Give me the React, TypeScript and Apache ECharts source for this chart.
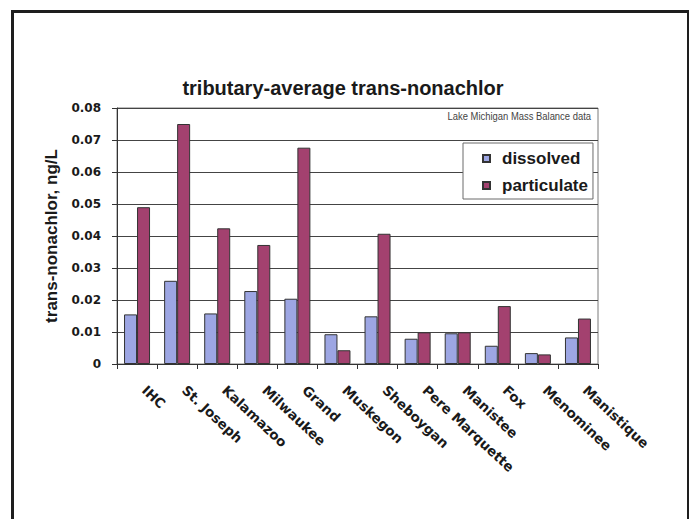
import React, { useEffect, useRef } from "react";
import * as echarts from "echarts";

const categories = [
  "IHC",
  "St. Joseph",
  "Kalamazoo",
  "Milwaukee",
  "Grand",
  "Muskegon",
  "Sheboygan",
  "Pere Marquette",
  "Manistee",
  "Fox",
  "Menominee",
  "Manistique",
];
const dissolved = [0.0155, 0.026, 0.0158, 0.0228, 0.0204, 0.0093, 0.0149, 0.0079, 0.0096, 0.0057, 0.0034, 0.0083];
const particulate = [0.049, 0.075, 0.0424, 0.0372, 0.0676, 0.0043, 0.0407, 0.0099, 0.0099, 0.0181, 0.003, 0.0142];
const yTicks = [0, 0.01, 0.02, 0.03, 0.04, 0.05, 0.06, 0.07, 0.08];

const titleText = "tributary-average trans-nonachlor";
const yAxisName = "trans-nonachlor, ng/L";
const sourceNote = "Lake Michigan Mass Balance data";

export default function App() {
  const ref = useRef<HTMLDivElement>(null);
  useEffect(() => {
    if (!ref.current) return;
    const chart = echarts.init(ref.current, undefined, { renderer: "svg" });
    const font = "Arial, 'Liberation Sans', sans-serif";
    const wide = "'DejaVu Sans', Verdana, sans-serif";
    chart.setOption({
      animation: false,
      backgroundColor: "#ffffff",
      textStyle: { fontFamily: font },
      grid: {
        left: 117,
        top: 108,
        width: 481,
        height: 256,
        show: true,
        borderColor: "#7a7a7a",
        borderWidth: 1,
        backgroundColor: "transparent",
      },
      legend: {
        left: 463,
        top: 143,
        orient: "vertical",
        selectedMode: false,
        icon: "rect",
        itemWidth: 7,
        itemHeight: 7,
        itemGap: 10,
        padding: [7, 5, 5, 19],
        borderColor: "#6a6a6a",
        borderWidth: 1,
        backgroundColor: "#ffffff",
        textStyle: {
          fontSize: 17,
          fontWeight: "bold",
          color: "#1a1a1a",
          fontFamily: font,
          padding: [0, 0, 0, 7],
        },
        data: ["dissolved", "particulate"],
      },
      xAxis: {
        type: "category",
        data: categories,
        axisLine: { lineStyle: { color: "#333", width: 1 } },
        axisTick: { show: true, length: 5, alignWithLabel: false, lineStyle: { color: "#333" } },
        axisLabel: {
          rotate: -43,
          margin: 17,
          padding: [0, 0, 0, 10],
          fontSize: 13.5,
          fontWeight: "bold",
          color: "#1a1a1a",
          interval: 0,
          fontFamily: wide,
        },
      },
      yAxis: {
        type: "value",
        min: 0,
        max: yTicks[yTicks.length - 1],
        interval: 0.01,
        name: yAxisName,
        nameLocation: "middle",
        nameRotate: 90,
        nameGap: 50,
        nameTextStyle: { fontSize: 17, fontWeight: "bold", color: "#1a1a1a", fontFamily: font },
        axisLine: { show: true, lineStyle: { color: "#333", width: 1 } },
        axisTick: { show: true, length: 5, inside: false, lineStyle: { color: "#333" } },
        splitLine: { show: true, lineStyle: { color: "#444", width: 1 } },
        axisLabel: {
          margin: 16,
          fontSize: 12,
          fontWeight: "bold",
          color: "#1a1a1a",
          fontFamily: wide,
          formatter: (v: number) => (v === 0 ? "0" : v.toFixed(2)),
        },
      },
      series: [
        {
          name: "dissolved",
          type: "bar",
          data: dissolved,
          barWidth: 13,
          barGap: "0%",
          itemStyle: { color: "#9da6e3", borderColor: "#333", borderWidth: 1 },
        },
        {
          name: "particulate",
          type: "bar",
          data: particulate,
          barWidth: 13,
          barGap: "0%",
          itemStyle: { color: "#a3416f", borderColor: "#333", borderWidth: 1 },
        },
      ],
      graphic: [
        {
          type: "text",
          x: 343,
          y: 88,
          style: {
            text: titleText,
            fontSize: 20,
            fontWeight: "bold",
            fill: "#1a1a1a",
            fontFamily: font,
            textAlign: "center",
            textVerticalAlign: "middle",
          },
        },
        {
          type: "text",
          x: 591,
          y: 116,
          scaleX: 0.82,
          style: {
            text: sourceNote,
            fontSize: 11.5,
            fill: "#444",
            fontFamily: font,
            textAlign: "right",
            textVerticalAlign: "middle",
          },
        },
        {
          type: "line",
          shape: { x1: 12.5, y1: 11.5, x2: 12.5, y2: 519 },
          style: { stroke: "#1e1e1e", lineWidth: 3 },
        },
        {
          type: "line",
          shape: { x1: 11, y1: 11.5, x2: 689, y2: 11.5 },
          style: { stroke: "#1e1e1e", lineWidth: 3 },
        },
        {
          type: "line",
          shape: { x1: 688, y1: 10, x2: 688, y2: 519 },
          style: { stroke: "#1e1e1e", lineWidth: 2 },
        },
      ],
    });
    return () => chart.dispose();
  }, []);
  return (
    <div
      ref={ref}
      style={{ position: "absolute", left: 0, top: 0, width: 689, height: 519 }}
    />
  );
}
